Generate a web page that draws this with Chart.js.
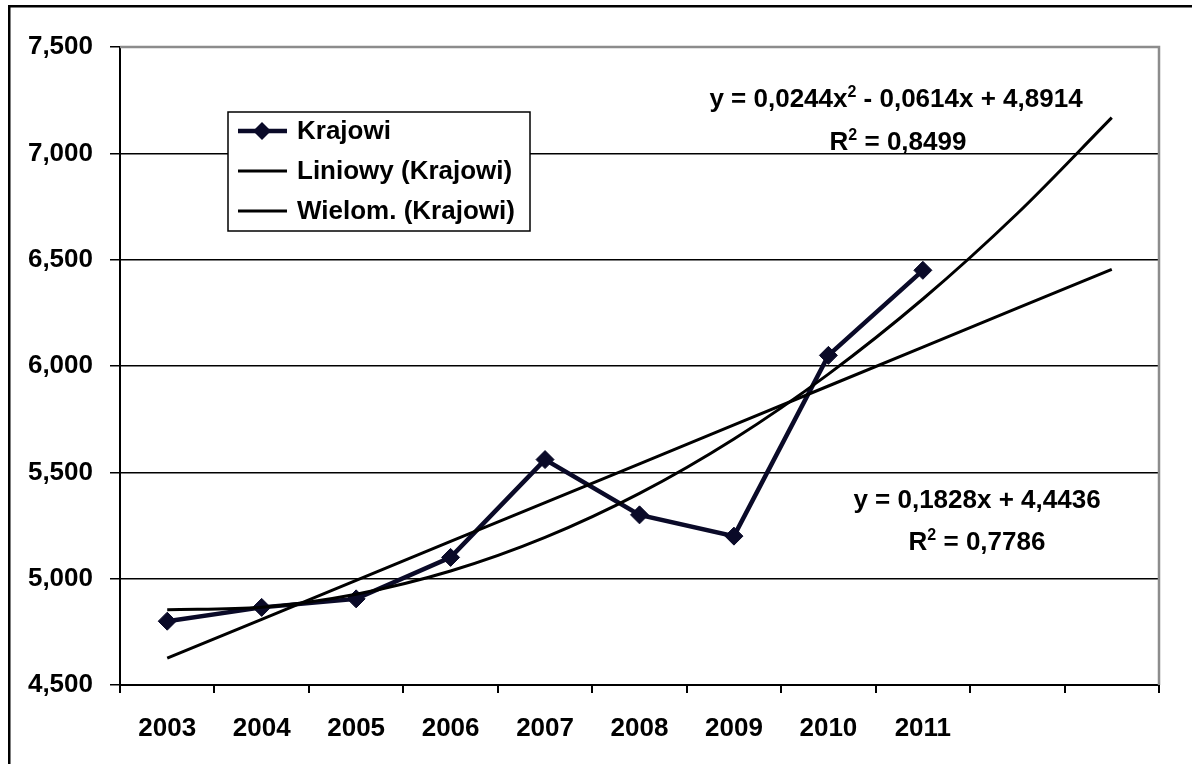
<!DOCTYPE html>
<html>
<head>
<meta charset="utf-8">
<script src="https://cdn.jsdelivr.net/npm/chart.js@4.4.1/dist/chart.umd.min.js"></script>
<style>
  html, body { margin: 0; padding: 0; background: #fff; overflow: hidden; }
  #wrap { width: 1192px; height: 764px; }
</style>
</head>
<body>
<div id="wrap"><canvas id="chart" width="1192" height="764"></canvas></div>
<script>
/* ---------- data ---------- */
const years   = ["2003", "2004", "2005", "2006", "2007", "2008", "2009", "2010", "2011", "", ""];
const krajowi = [4800, 4865, 4905, 5100, 5560, 5300, 5200, 6050, 6450, null, null];
// trend lines (Excel draws them over 11 periods)
const liniowy = [4626, 4809, 4992, 5175, 5358, 5540, 5723, 5906, 6089, 6272, 6454];
const wielom  = [4854, 4866, 4927, 5036, 5194, 5401, 5657, 5962, 6315, 6717, 7168];
const yMin = 4500, yMax = 7500, yStep = 500;

const legendNames = ["Krajowi", "Liniowy (Krajowi)", "Wielom. (Krajowi)"];
// text parts alternate: normal, superscript, normal ...
const eqPoly = [["y = 0,0244x", "2", " - 0,0614x + 4,8914"], ["R", "2", " = 0,8499"]];
const eqLin  = [["y = 0,1828x + 4,4436"], ["R", "2", " = 0,7786"]];

/* ---------- helpers ---------- */
const FAM  = "'Liberation Sans', Arial, sans-serif";
const FONT = `bold 26px ${FAM}`;
const SUP  = `bold 16px ${FAM}`;
const NAVY = "#0a0a28";

function richText (ctx, parts, cx, y) {
  let w = 0;
  parts.forEach((t, i) => { ctx.font = i % 2 ? SUP : FONT; w += ctx.measureText(t).width; });
  let x = cx - w / 2;
  parts.forEach((t, i) => {
    ctx.font = i % 2 ? SUP : FONT;
    ctx.fillText(t, x, i % 2 ? y - 10 : y);
    x += ctx.measureText(t).width;
  });
}

function diamond (ctx, cx, cy, r) {
  ctx.beginPath();
  ctx.moveTo(cx, cy - r); ctx.lineTo(cx + r, cy);
  ctx.lineTo(cx, cy + r); ctx.lineTo(cx - r, cy);
  ctx.closePath(); ctx.fill();
}

/* ---------- decorations ---------- */
const deco = {
  id: "deco",
  beforeDraw (ch) {
    const c = ch.ctx;
    c.save();
    c.fillStyle = "#fff"; c.fillRect(0, 0, ch.width, ch.height);
    c.fillStyle = "#000";
    c.fillRect(8, 5, ch.width, 2.5);       // outer frame, cropped at right/bottom
    c.fillRect(8, 5, 2.5, ch.height);
    c.restore();
  },
  beforeDatasetsDraw (ch) {
    const c = ch.ctx, a = ch.chartArea;
    c.save();
    c.strokeStyle = "#8c8c8c"; c.lineWidth = 2.5;
    c.beginPath();
    c.moveTo(a.left, a.top); c.lineTo(a.right, a.top); c.lineTo(a.right, a.bottom);
    c.stroke();
    c.restore();
  },
  afterDraw (ch) {
    const c = ch.ctx;
    c.save();
    /* legend box */
    c.fillStyle = "#fff"; c.fillRect(228, 112, 302, 119);
    c.strokeStyle = "#000"; c.lineWidth = 1.5; c.strokeRect(228, 112, 302, 119);
    const rows = [131, 171, 211];
    rows.forEach((y, i) => {
      c.strokeStyle = i ? "#000" : NAVY;
      c.lineWidth = i ? 3 : 4.5;
      c.beginPath(); c.moveTo(238, y); c.lineTo(287, y); c.stroke();
      if (!i) { c.fillStyle = NAVY; diamond(c, 262, y, 9); }
      c.fillStyle = "#000"; c.font = FONT;
      c.textAlign = "left"; c.textBaseline = "middle";
      c.fillText(legendNames[i], 297, y + 1);
    });
    /* equations */
    c.textBaseline = "alphabetic"; c.fillStyle = "#000";
    richText(c, eqPoly[0], 896, 107);
    richText(c, eqPoly[1], 898, 150);
    richText(c, eqLin[0], 977, 508);
    richText(c, eqLin[1], 977, 550);
    c.restore();
  }
};

/* ---------- chart ---------- */
const tickFont = { family: FAM, size: 26, weight: "bold" };

new Chart(document.getElementById("chart"), {
  type: "line",
  data: {
    labels: years,
    datasets: [
      { label: legendNames[1], data: liniowy, borderColor: "#000", borderWidth: 3,
        pointRadius: 0, order: 1 },
      { label: legendNames[2], data: wielom, borderColor: "#000", borderWidth: 3,
        pointRadius: 0, cubicInterpolationMode: "monotone", order: 2 },
      { label: legendNames[0], data: krajowi, borderColor: NAVY, backgroundColor: NAVY,
        borderWidth: 4.5, pointStyle: "rectRot", pointRadius: 9, pointBorderWidth: 1,
        spanGaps: false, order: 3 }
    ]
  },
  options: {
    responsive: false, animation: false, devicePixelRatio: 1,
    layout: { padding: { top: 47, right: 33, left: 0, bottom: 0 } },
    plugins: { legend: { display: false }, tooltip: { enabled: false } },
    scales: {
      x: {
        type: "category", offset: true,
        grid: { offset: true, drawOnChartArea: false, tickLength: 8, color: "#000", lineWidth: 2 },
        border: { color: "#000", width: 2 },
        ticks: { font: tickFont, color: "#000", padding: 20, maxRotation: 0, autoSkip: false },
        afterFit: s => { s.height = 79; }
      },
      y: {
        min: yMin, max: yMax,
        grid: { color: ctx => (ctx.tick && ctx.tick.value === yMax) ? "#8c8c8c" : "#000",
                lineWidth: 1.5, tickLength: 10, tickColor: "#000" },
        border: { color: "#000", width: 2 },
        ticks: { stepSize: yStep, font: tickFont, color: "#000", padding: 17,
                 callback: v => v.toLocaleString("en-US") },
        afterFit: s => { s.width = 120; }
      }
    }
  },
  plugins: [deco]
});
</script>
</body>
</html>
